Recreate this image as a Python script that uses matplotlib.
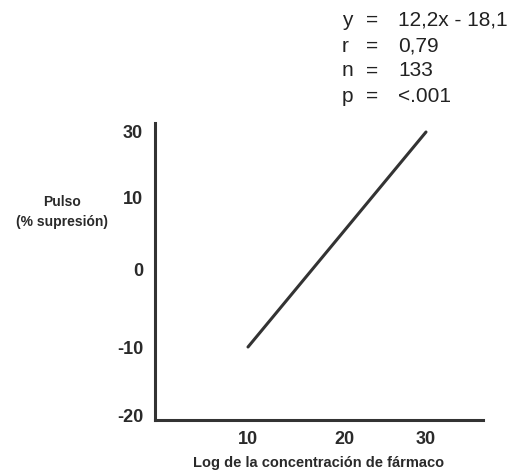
import numpy as np
import matplotlib
matplotlib.use("Agg")
import matplotlib.pyplot as plt
from matplotlib import font_manager as fm

# ---- data ----
line_x = [10, 30]
line_y = [-10, 30]
x_ticks = [10, 20, 30]
y_ticks = [-20, -10, 0, 10, 30]
stats_names = ["y", "r", "n", "p"]
stats_values = ["12,2x - 18,1", "0,79", "133", "<.001"]
x_label = "Log de la concentración de fármaco"
y_label = "Pulso\n(% supresión)"

# non-linear axis as drawn in the original (ticks spaced unevenly)
x_knots_val = [0, 10, 20, 30, 37]
x_knots_pos = [155, 248, 344, 426, 483]
y_knots_val = [-20.6, -20, -10, 0, 10, 30, 31.5]
y_knots_pos = [54, 58, 127, 205, 276, 342, 351]

def fwd(v, a, b):
    return np.interp(v, a, b)

names = {f.name for f in fm.fontManager.ttflist}
bold_family = "Liberation Sans Narrow" if "Liberation Sans Narrow" in names else "Liberation Sans"
narrow = bold_family == "Liberation Sans Narrow"

fig = plt.figure(figsize=(5.16, 4.74), dpi=100)
W, H = 516, 474
ax = fig.add_axes([155 / W, 54 / H, (483 - 155) / W, (351 - 54) / H])
ax.set_xscale("function", functions=(lambda v: fwd(v, x_knots_val, x_knots_pos),
                                     lambda p: fwd(p, x_knots_pos, x_knots_val)))
ax.set_yscale("function", functions=(lambda v: fwd(v, y_knots_val, y_knots_pos),
                                     lambda p: fwd(p, y_knots_pos, y_knots_val)))
ax.set_xlim(0, 37)
ax.set_ylim(-20.6, 31.5)

ax.plot(line_x, line_y, color="#333333", lw=2.2, solid_capstyle="round")

for s in ["top", "right"]:
    ax.spines[s].set_visible(False)
for s in ["left", "bottom"]:
    ax.spines[s].set_linewidth(2.2)
    ax.spines[s].set_color("#333333")

ax.set_xticks(x_ticks)
ax.set_yticks(y_ticks)
ax.set_xticklabels([str(v) for v in x_ticks])
ax.set_yticklabels([str(v) for v in y_ticks])
ax.tick_params(length=0, labelsize=13, colors="#2a2a2a")
ax.tick_params(axis="y", pad=8.5)
ax.tick_params(axis="x", pad=8)
for lab in ax.get_xticklabels() + ax.get_yticklabels():
    lab.set_fontfamily("Liberation Sans")
    lab.set_fontweight("bold")
ax.minorticks_off()

ax.set_xlabel(x_label, fontsize=13 if narrow else 10.5, fontweight="bold",
              family=bold_family, color="#2a2a2a", labelpad=6)

fig.text(62 / W, 1 - 212 / H, y_label, ha="center", va="center", fontsize=10,
         fontweight="bold", family=bold_family, color="#2a2a2a", linespacing=1.5)

ys = [20, 46, 71, 96]
for name, val, yy in zip(stats_names, stats_values, ys):
    fig.text(342 / W, 1 - yy / H, name, ha="left", va="center", fontsize=15,
             family="Liberation Sans", color="#222222")
    fig.text(372 / W, 1 - yy / H, "=", ha="center", va="center", fontsize=15,
             family="Liberation Sans", color="#222222")
    fig.text(398 / W, 1 - yy / H, val, ha="left", va="center", fontsize=15,
             family="Liberation Sans", color="#222222")

fig.savefig("out.png", dpi=100)
